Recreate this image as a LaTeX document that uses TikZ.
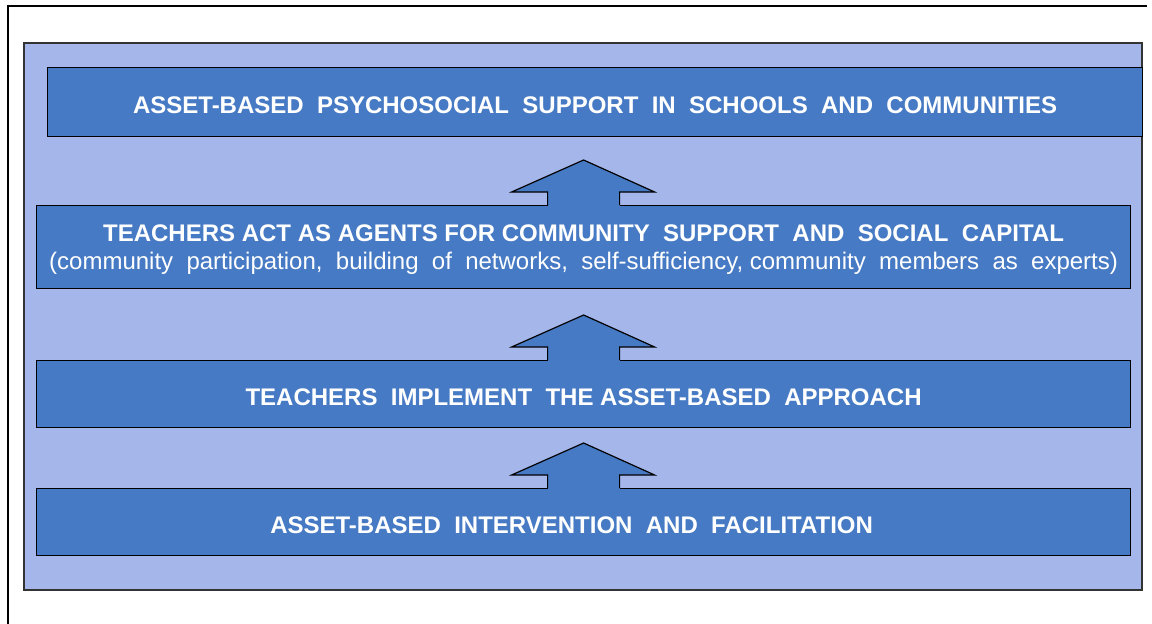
\documentclass[tikz,border=0pt]{standalone}
\usepackage{fontspec}
\setmainfont{Liberation Sans}
\definecolor{panelblue}{RGB}{164,182,234}
\definecolor{boxblue}{RGB}{70,122,196}
\tikzset{
    panel/.style={draw=black!80, line width=1.2pt, fill=panelblue},
    bluebox/.style={draw=black, line width=1.2pt, fill=boxblue, text=white,
        anchor=north west, inner sep=0pt, align=center, text height=23pt,
        font=\fontsize{24}{28}\selectfont},
    blockarrow/.style={draw=black, line width=1.2pt, fill=boxblue, line join=miter}
}
\newcommand{\upblock}[1]{% block arrow sitting on top of box #1
    \fill[boxblue] ([xshift=-36pt]#1.north) rectangle ([xshift=36pt,yshift=-2pt]#1.north);
    \filldraw[blockarrow] ([xshift=-36pt]#1.north) -- ([xshift=-36pt,yshift=13pt]#1.north)
        -- ([xshift=-72pt,yshift=13pt]#1.north) -- ([yshift=45pt]#1.north)
        -- ([xshift=71pt,yshift=13pt]#1.north) -- ([xshift=36pt,yshift=13pt]#1.north)
        -- ([xshift=36pt]#1.north);
}
\begin{document}
\begin{tikzpicture}[x=1pt, y=-1pt]
    \useasboundingbox (0,0) rectangle (1152,624);
    \draw[line width=2pt] (8,624) -- (8,6) -- (1147,6);
    \filldraw[panel] (24,43) rectangle (1142,590);
    % boxes, top to bottom
    \node[bluebox, minimum width=1095pt, minimum height=69pt] (support) at (47,67)
        {\bfseries ASSET-BASED\ \ PSYCHOSOCIAL\ \ SUPPORT\ \ IN\ \ SCHOOLS\ \ AND\ \ COMMUNITIES};
    \node[bluebox, minimum width=1094pt, minimum height=83pt, text height=49pt] (agents) at (36,205)
        {\bfseries TEACHERS ACT AS AGENTS FOR COMMUNITY\ \ SUPPORT\ \ AND\ \ SOCIAL\ \ CAPITAL\\
        (community\ \ participation,\ \ building\ \ of\ \ networks,\ \ self-sufficiency,\ community\ \ members\ \ as\ \ experts)};
    \node[bluebox, minimum width=1094pt, minimum height=67pt] (implement) at (36,360)
        {\bfseries TEACHERS\ \ IMPLEMENT\ \ THE ASSET-BASED\ \ APPROACH};
    \node[bluebox, minimum width=1094pt, minimum height=67pt] (intervention) at (36,488)
        {\bfseries ASSET-BASED\ \ INTERVENTION\ \ AND\ \ FACILITATION\hspace*{24pt}};
    % arrows between the boxes
    \upblock{agents}
    \upblock{implement}
    \upblock{intervention}
\end{tikzpicture}
\end{document}
